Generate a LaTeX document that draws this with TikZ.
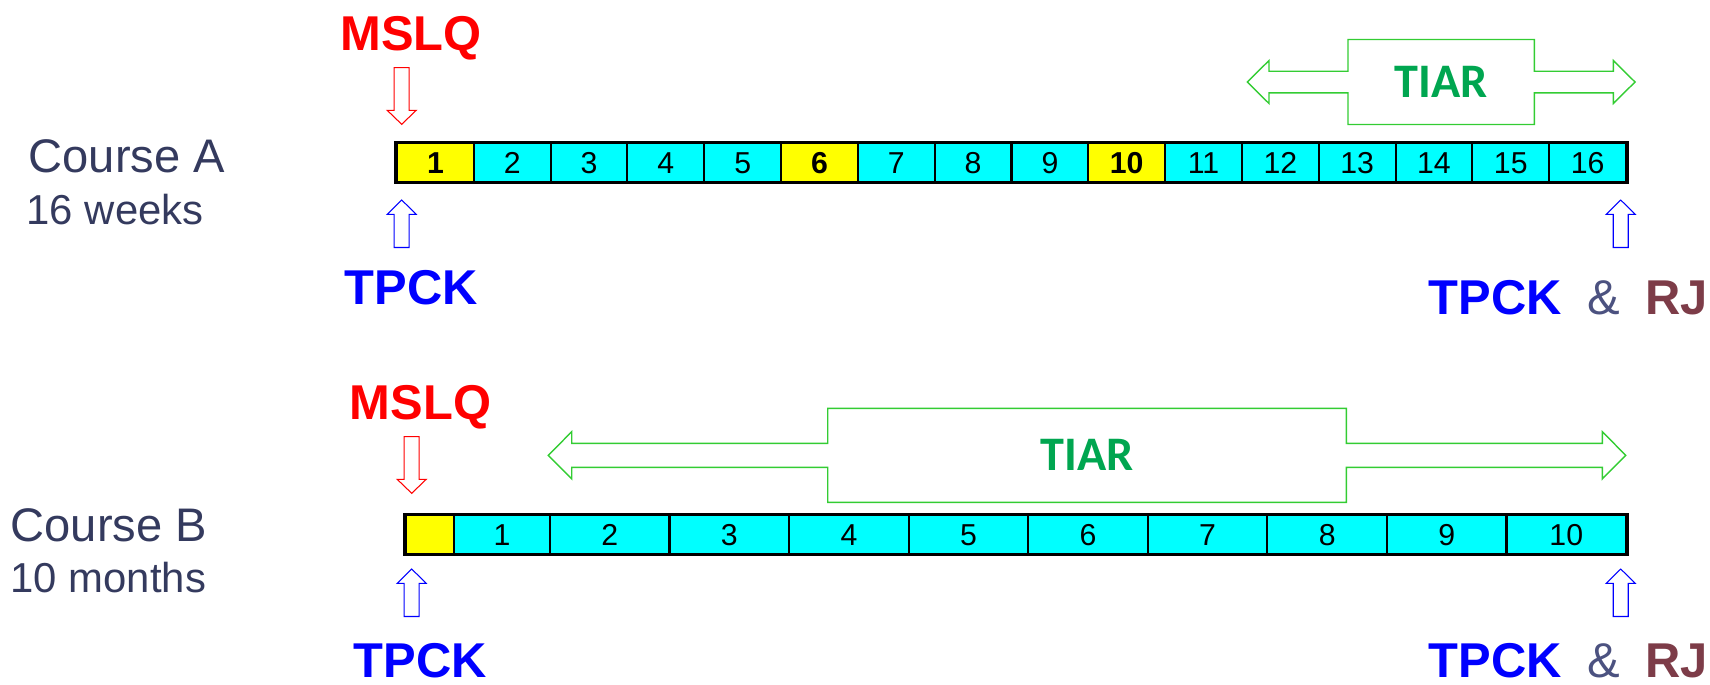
\documentclass[tikz,border=0pt]{standalone}
\usepackage{fontspec}
\setmainfont{Liberation Sans}
\newfontfamily\tiarfont{Carlito}
\usepackage{tikz}
\usepackage{xcolor}

\definecolor{coursecol}{RGB}{52,58,94}
\definecolor{ampcol}{RGB}{76,82,128}
\definecolor{rjcol}{RGB}{125,60,72}
\definecolor{tiartext}{RGB}{0,166,80}
\definecolor{tiarline}{RGB}{51,204,51}
\definecolor{weekfill}{RGB}{0,255,255}
\definecolor{examfill}{RGB}{255,255,0}

\tikzset{
	weekcell/.style={draw=black, line width=0.6pt, fill=weekfill, inner sep=0pt,
		minimum height=0.385cm, text height=6.2pt, text depth=0pt,
		font=\fontsize{8.6}{10}\selectfont},
	coursename/.style={anchor=base west, inner sep=0pt, text=coursecol,
		font=\fontsize{13.4}{16}\selectfont},
	courselen/.style={anchor=base west, inner sep=0pt, text=coursecol,
		font=\fontsize{11.9}{14}\selectfont},
	instr/.style={anchor=base, inner sep=0pt, font=\fontsize{13.9}{16}\selectfont\bfseries},
	mslqarrow/.style={draw=red, line width=0.3pt, fill=white},
	tpckarrow/.style={draw=blue, line width=0.3pt, fill=white},
	tiarbox/.style={draw=tiarline, line width=0.4pt},
	tiarlabel/.style={text=tiartext, inner sep=0pt,
		font=\tiarfont\bfseries\fontsize{13.7}{15}\selectfont},
}

\begin{document}
\begin{tikzpicture}[x=0.01cm, y=-0.01cm]
\useasboundingbox (0,0) rectangle (1710,684);

% course A, one cell per week
\node[coursename] (courseA) at (28,172.7) {Course A};
\node[courselen] (lenA) at (26,224.3) {16 weeks};
\foreach \i in {1,...,16}
{
	\pgfmathsetmacro{\xc}{397+76.8125*(\i-0.5)}
	\def\cfill{weekfill}\def\cfont{}
	\ifnum\i=1 \def\cfill{examfill}\def\cfont{\bfseries}\fi
	\ifnum\i=6 \def\cfill{examfill}\def\cfont{\bfseries}\fi
	\ifnum\i=10 \def\cfill{examfill}\def\cfont{\bfseries}\fi
	\node[weekcell, minimum width=0.768cm, fill=\cfill] (a\i) at (\xc,162.5) {\cfont\i};
}
\draw[line width=0.9pt] (a1.north west) rectangle (a16.south east);

% course B, one cell per month
\node[coursename] (courseB) at (10,541.7) {Course B};
\node[courselen] (lenB) at (10,592.7) {10 months};
\node[weekcell, minimum width=0.48cm, fill=examfill] (b0) at (430,534.5) {};
\node[weekcell, minimum width=0.96cm] (b1) at (502,534.5) {1};
\foreach \i in {2,...,10}
{
	\pgfmathsetmacro{\xc}{550+119.56*(\i-1.5)}
	\node[weekcell, minimum width=1.1956cm] (b\i) at (\xc,534.5) {\i};
}
\draw[line width=0.9pt] (b0.north west) rectangle (b10.south east);

% instruments
\node[instr, text=red] (mslqA) at (411,50) {MSLQ};
\node[instr, text=red] (mslqB) at (420.5,419.3) {MSLQ};
\node[instr, text=blue] (tpckA) at (411.3,304) {TPCK};
\node[instr, text=blue] (tpckB) at (420.5,677) {TPCK};
\node[instr, text=blue] (postA) at (1495.5,314) {TPCK};
\node[instr, text=ampcol, font=\fontsize{13.9}{16}\selectfont] (ampA) at (1603.5,314) {\&};
\node[instr, text=rjcol] (rjA) at (1676.5,314) {RJ};
\node[instr, text=blue] (postB) at (1495.5,677) {TPCK};
\node[instr, text=ampcol, font=\fontsize{13.9}{16}\selectfont] (ampB) at (1603.5,677) {\&};
\node[instr, text=rjcol] (rjB) at (1676.5,677) {RJ};

% block arrows down (MSLQ) and up (TPCK)
\foreach \x/\y in {401.7/124.3, 411.7/493.3}
	\draw[mslqarrow] (\x,\y) -- ++(-14.5,-14) -- ++(7,0) -- ++(0,-42.6) -- ++(15,0) -- ++(0,42.6) -- ++(7,0) -- cycle;
\foreach \x/\y in {401.7/200, 1620.7/200, 411.7/569, 1620.7/569}
	\draw[tpckarrow] (\x,\y) -- ++(-14.5,14.3) -- ++(7,0) -- ++(0,33.2) -- ++(15,0) -- ++(0,-33.2) -- ++(7,0) -- cycle;

% TIAR span, course A
\draw[tiarbox] (1247.3,82) -- (1269,60.5) -- (1269,71.2) -- (1348,71.2) -- (1348,39.5)
	-- (1534.3,39.5) -- (1534.3,71.2) -- (1613.3,71.2) -- (1613.3,60.5) -- (1635,82)
	-- (1613.3,103.5) -- (1613.3,92.8) -- (1534.3,92.8) -- (1534.3,124.5) -- (1348,124.5)
	-- (1348,92.8) -- (1269,92.8) -- (1269,103.5) -- cycle;
\node[tiarlabel] (tiarA) at (1441.2,82) {TIAR};

% TIAR span, course B
\draw[tiarbox] (548.3,455.3) -- (571.7,431.7) -- (571.7,443.3) -- (827.7,443.3) -- (827.7,408.3)
	-- (1346.3,408.3) -- (1346.3,443.3) -- (1602.3,443.3) -- (1602.3,431.7) -- (1625.7,455.3)
	-- (1602.3,478.9) -- (1602.3,467.3) -- (1346.3,467.3) -- (1346.3,502.3) -- (827.7,502.3)
	-- (827.7,467.3) -- (571.7,467.3) -- (571.7,478.9) -- cycle;
\node[tiarlabel] (tiarB) at (1087,455.3) {TIAR};
\end{tikzpicture}
\end{document}
